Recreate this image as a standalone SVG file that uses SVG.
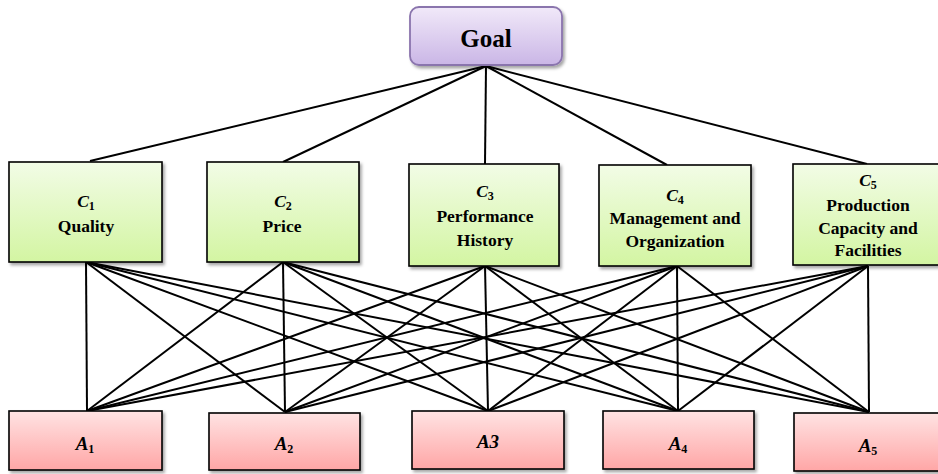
<svg xmlns="http://www.w3.org/2000/svg" width="938" height="474" viewBox="0 0 938 474">
<style>
.t{font-family:"Liberation Serif","Times New Roman",serif;font-weight:bold;fill:#000;text-anchor:middle}
.lbl{font-size:17.5px}
.it{font-style:italic}
.sub{font-style:normal;font-size:12px}
.c{fill:url(#gC);stroke:#000;stroke-width:1.6;filter:url(#sh)}
.a{fill:url(#gA);stroke:#000;stroke-width:1.6;filter:url(#sh)}
.g{fill:url(#gG);stroke:#8a74ad;stroke-width:1.8;filter:url(#sh)}
#connectors line{stroke:#000;stroke-width:2}
</style>
<defs>
<linearGradient id="gC" x1="0" y1="0" x2="0" y2="1"><stop offset="0" stop-color="#f2fce6"/><stop offset="1" stop-color="#d3f5a2"/></linearGradient>
<linearGradient id="gA" x1="0" y1="0" x2="0" y2="1"><stop offset="0" stop-color="#ffe3e3"/><stop offset="1" stop-color="#ffa6a6"/></linearGradient>
<linearGradient id="gG" x1="0" y1="0" x2="0" y2="1"><stop offset="0" stop-color="#f1e9f9"/><stop offset="1" stop-color="#cab6e6"/></linearGradient>
<filter id="sh" x="-10%" y="-10%" width="125%" height="130%"><feDropShadow dx="2" dy="2.5" stdDeviation="1.5" flood-color="#000" flood-opacity="0.35"/></filter>
</defs>
<rect width="938" height="474" fill="#fff"/>
<g id="connectors">
<line x1="486" y1="66" x2="90" y2="161"/>
<line x1="486" y1="66" x2="283" y2="162"/>
<line x1="486" y1="66" x2="485" y2="164"/>
<line x1="486" y1="66" x2="667" y2="165"/>
<line x1="486" y1="66" x2="867" y2="164"/>
<line x1="86" y1="262" x2="87" y2="411"/>
<line x1="86" y1="262" x2="285" y2="412"/>
<line x1="86" y1="262" x2="488" y2="411"/>
<line x1="86" y1="262" x2="678" y2="411"/>
<line x1="86" y1="262" x2="869" y2="412"/>
<line x1="283" y1="262" x2="87" y2="411"/>
<line x1="283" y1="262" x2="285" y2="412"/>
<line x1="283" y1="262" x2="488" y2="411"/>
<line x1="283" y1="262" x2="678" y2="411"/>
<line x1="283" y1="262" x2="869" y2="412"/>
<line x1="485" y1="266" x2="87" y2="411"/>
<line x1="485" y1="266" x2="285" y2="412"/>
<line x1="485" y1="266" x2="488" y2="411"/>
<line x1="485" y1="266" x2="678" y2="411"/>
<line x1="485" y1="266" x2="869" y2="412"/>
<line x1="677" y1="266" x2="87" y2="411"/>
<line x1="677" y1="266" x2="285" y2="412"/>
<line x1="677" y1="266" x2="488" y2="411"/>
<line x1="677" y1="266" x2="678" y2="411"/>
<line x1="677" y1="266" x2="869" y2="412"/>
<line x1="868" y1="266" x2="87" y2="411"/>
<line x1="868" y1="266" x2="285" y2="412"/>
<line x1="868" y1="266" x2="488" y2="411"/>
<line x1="868" y1="266" x2="678" y2="411"/>
<line x1="868" y1="266" x2="869" y2="412"/>
</g>
<g id="goal">
<rect class="g" x="410" y="7" width="152" height="58" rx="9"/>
<text class="t" x="486" y="47" font-size="25">Goal</text>
</g>
<g id="c1">
<rect class="c" x="9" y="162" width="153" height="100"/>
<text class="t lbl" x="86" y="207"><tspan class="it">C</tspan><tspan class="sub" dy="3">1</tspan></text>
<text class="t lbl" x="86" y="232">Quality</text>
</g>
<g id="c2">
<rect class="c" x="207" y="162" width="152" height="100"/>
<text class="t lbl" x="283" y="207"><tspan class="it">C</tspan><tspan class="sub" dy="3">2</tspan></text>
<text class="t lbl" x="282" y="232">Price</text>
</g>
<g id="c3">
<rect class="c" x="409" y="164" width="150" height="102"/>
<text class="t lbl" x="485" y="197"><tspan class="it">C</tspan><tspan class="sub" dy="3">3</tspan></text>
<text class="t lbl" x="485" y="222">Performance</text>
<text class="t lbl" x="485" y="246">History</text>
</g>
<g id="c4">
<rect class="c" x="599" y="165" width="152" height="101"/>
<text class="t lbl" x="675" y="201"><tspan class="it">C</tspan><tspan class="sub" dy="3">4</tspan></text>
<text class="t lbl" x="675" y="224">Management and</text>
<text class="t lbl" x="675" y="247">Organization</text>
</g>
<g id="c5">
<rect class="c" x="793" y="164" width="150" height="101"/>
<text class="t lbl" x="868" y="186"><tspan class="it">C</tspan><tspan class="sub" dy="3">5</tspan></text>
<text class="t lbl" x="868" y="211">Production</text>
<text class="t lbl" x="868" y="234">Capacity and</text>
<text class="t lbl" x="868" y="256">Facilities</text>
</g>
<g id="a1">
<rect class="a" x="9" y="411" width="153" height="59"/>
<text class="t it" x="85" y="450" font-size="19">A<tspan class="sub" font-size="13" dy="3">1</tspan></text>
</g>
<g id="a2">
<rect class="a" x="209" y="413" width="151" height="57"/>
<text class="t it" x="284" y="450" font-size="19">A<tspan class="sub" font-size="13" dy="3">2</tspan></text>
</g>
<g id="a3">
<rect class="a" x="412" y="411" width="152" height="58"/>
<text class="t it" x="488" y="448" font-size="19">A3</text>
</g>
<g id="a4">
<rect class="a" x="603" y="411" width="151" height="58"/>
<text class="t it" x="678" y="450" font-size="19">A<tspan class="sub" font-size="13" dy="3">4</tspan></text>
</g>
<g id="a5">
<rect class="a" x="794" y="413" width="150" height="58"/>
<text class="t it" x="868" y="452" font-size="19">A<tspan class="sub" font-size="13" dy="3">5</tspan></text>
</g>
</svg>
